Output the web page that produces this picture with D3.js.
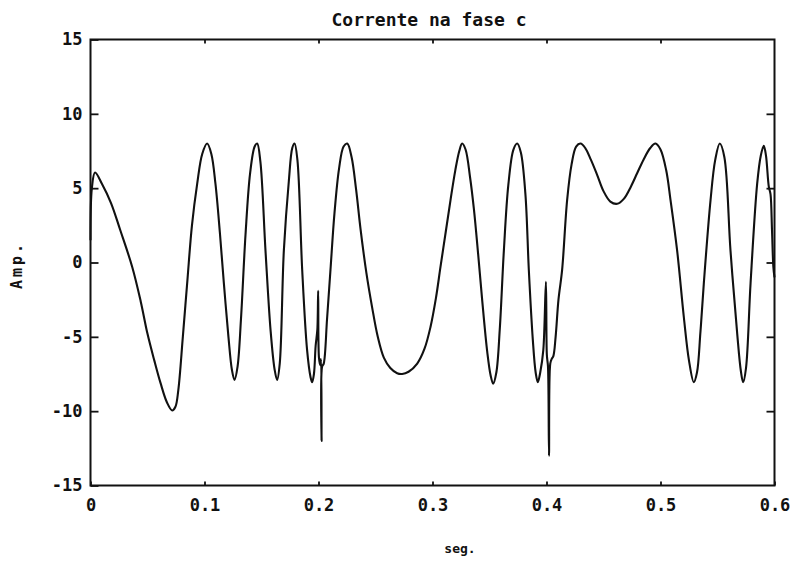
<!DOCTYPE html>
<html>
<head>
<meta charset="utf-8">
<script src="https://cdn.jsdelivr.net/npm/d3@7"></script>
<style>
  html, body { margin: 0; padding: 0; background: #fff; }
  svg { display: block; }
  text { font-family: "DejaVu Sans Mono", "Liberation Mono", monospace; font-weight: bold; fill: #111; }
</style>
</head>
<body>
<svg id="chart" width="795" height="563"></svg>
<script>
// Phase-c current over time (seconds, amperes)
const timeS = [
  0.0000, 0.0012, 0.0040, 0.0100, 0.0180, 0.0260, 0.0366, 0.0440, 0.0500, 0.0560,
  0.0614, 0.0670, 0.0716, 0.0745, 0.0770, 0.0810, 0.0850, 0.0890, 0.0936, 0.0980,
  0.1023, 0.1060, 0.1096, 0.1135, 0.1170, 0.1210, 0.1240, 0.1263, 0.1290, 0.1320,
  0.1360, 0.1400, 0.1440, 0.1462, 0.1490, 0.1535, 0.1580, 0.1615, 0.1637, 0.1660,
  0.1696, 0.1740, 0.1770, 0.1790, 0.1815, 0.1857, 0.1900, 0.1930, 0.1944, 0.1960,
  0.1975, 0.1990, 0.1997, 0.2004, 0.2015, 0.2022, 0.2027, 0.2032, 0.2046, 0.2075,
  0.2105, 0.2140, 0.2180, 0.2220, 0.2252, 0.2290, 0.2330, 0.2368, 0.2420, 0.2470,
  0.2520, 0.2573, 0.2630, 0.2690, 0.2734, 0.2790, 0.2866, 0.2930, 0.2982, 0.3030,
  0.3070, 0.3115, 0.3158, 0.3200, 0.3235, 0.3260, 0.3290, 0.3330, 0.3363, 0.3400,
  0.3436, 0.3480, 0.3510, 0.3532, 0.3560, 0.3590, 0.3626, 0.3665, 0.3710, 0.3743,
  0.3775, 0.3815, 0.3845, 0.3880, 0.3905, 0.3924, 0.3945, 0.3972, 0.3995, 0.4003,
  0.4013, 0.4022, 0.4033, 0.4045, 0.4060, 0.4080, 0.4105, 0.4137, 0.4181, 0.4220,
  0.4260, 0.4298, 0.4340, 0.4390, 0.4444, 0.4500, 0.4560, 0.4620, 0.4680, 0.4740,
  0.4795, 0.4850, 0.4910, 0.4956, 0.5000, 0.5050, 0.5088, 0.5146, 0.5205, 0.5250,
  0.5292, 0.5320, 0.5350, 0.5380, 0.5439, 0.5480, 0.5520, 0.5560, 0.5614, 0.5673,
  0.5705, 0.5725, 0.5750, 0.5790, 0.5848, 0.5880, 0.5906, 0.5925, 0.5950, 0.5965,
  0.5978, 0.5990, 0.6000
];
const currentA = [
   1.5,  5.0,  6.05,  5.3,  4.0,  2.2, -0.3, -2.6, -4.8, -6.6,
  -8.1, -9.4, -9.95, -9.7, -8.6, -5.0, -1.2,  2.5,  5.3,  7.3,
   8.0,  7.3,  5.3,  2.0, -1.4, -5.0, -7.2, -7.9, -7.0, -3.8,
   1.9,  6.0,  7.8,  8.0,  6.8,  0.8, -4.6, -7.2, -7.9, -6.8,
   0.8,  5.5,  7.7,  8.0,  6.9, -0.5, -5.9, -7.7, -8.05, -7.5,
  -5.6, -4.5, -1.9, -6.4, -6.9, -6.5, -12.0, -7.0, -6.8, -3.8,
  -0.5,  3.3,  6.3,  7.8,  8.0,  7.1,  4.9,  2.3, -0.7, -3.0,
  -5.0, -6.4, -7.1, -7.45, -7.5, -7.35, -6.8, -5.8, -4.35, -2.4,
  -0.3,  2.0,  4.2,  6.2,  7.5,  8.0,  7.6,  5.7,  3.6,  0.6,
  -2.55, -6.0, -7.6, -8.15, -7.4, -4.5,  0.8,  5.2,  7.6,  8.0,
   7.4,  4.6, -0.5, -5.2, -7.4, -8.05, -7.4, -5.9, -1.3, -6.2,
  -7.0, -13.0, -6.8, -6.5, -6.3, -5.0, -2.5, -0.5,  4.2,  6.6,
   7.8,  8.0,  7.7,  6.9,  5.9,  4.8,  4.1,  3.95, 4.3,  5.1,
   6.0,  6.9,  7.7,  8.0,  7.6,  6.2,  4.2,  0.8, -3.7, -6.6,
  -8.05, -7.4, -4.7, -1.4,  4.2,  6.9,  8.0,  7.1,  0.8, -4.8,
  -7.3, -8.05, -7.1, -1.4,  5.3,  7.2,  7.85, 7.2,  5.1,  4.6,
   2.2, -0.3, -1.0
];

const xTicks = [0, 0.1, 0.2, 0.3, 0.4, 0.5, 0.6];
const xTickLabels = ["0", "0.1", "0.2", "0.3", "0.4", "0.5", "0.6"];
const yTicks = [-15, -10, -5, 0, 5, 10, 15];
const yTickLabels = ["-15", "-10", "-5", "0", "5", "10", "15"];

const titleText = "Corrente na fase c";
const xLabelText = "seg.";
const yLabelText = "Amp.";

const svg = d3.select("#chart");
svg.append("rect").attr("width", 795).attr("height", 563).attr("fill", "#fff");

const plot = { left: 90.5, right: 774.5, top: 39.5, bottom: 485.5 };

const x = d3.scaleLinear().domain([0, 0.6]).range([plot.left, plot.right]);
const y = d3.scaleLinear().domain([-15, 15]).range([plot.bottom, plot.top]);

// Waveform, smoothed through the sampled points
const points = timeS.map((t, i) => [t, currentA[i]]);
const line = d3.line()
  .x(d => x(d[0]))
  .y(d => y(d[1]))
  .curve(d3.curveCatmullRom.alpha(0.5));

svg.append("path")
  .datum(points)
  .attr("d", line)
  .attr("fill", "none")
  .attr("stroke", "#111")
  .attr("stroke-width", 2.1)
  .attr("stroke-linejoin", "round");

// Axes with inward ticks
function styleAxis(g) {
  g.select(".domain").remove();
  g.selectAll(".tick line").attr("stroke", "#111").attr("stroke-width", 1.8);
  g.selectAll(".tick text").style("font-size", "17px").attr("fill", "#111");
}

svg.append("g")
  .attr("transform", `translate(${plot.left},0)`)
  .call(d3.axisLeft(y).tickValues(yTicks)
    .tickFormat((d, i) => yTickLabels[i])
    .tickSizeInner(-8).tickSizeOuter(0).tickPadding(8))
  .call(styleAxis);

svg.append("g")
  .attr("transform", `translate(${plot.right},0)`)
  .call(d3.axisRight(y).tickValues(yTicks.slice(1, -1))
    .tickFormat("").tickSizeInner(-8).tickSizeOuter(0))
  .call(styleAxis);

svg.append("g")
  .attr("transform", `translate(0,${plot.bottom})`)
  .call(d3.axisBottom(x).tickValues(xTicks)
    .tickFormat((d, i) => xTickLabels[i])
    .tickSizeInner(-4).tickSizeOuter(0).tickPadding(13))
  .call(styleAxis);

svg.append("g")
  .attr("transform", `translate(0,${plot.top})`)
  .call(d3.axisTop(x).tickValues(xTicks.slice(1, -1))
    .tickFormat("").tickSizeInner(-4).tickSizeOuter(0))
  .call(styleAxis);

// Frame
svg.append("rect")
  .attr("x", plot.left).attr("y", plot.top)
  .attr("width", plot.right - plot.left)
  .attr("height", plot.bottom - plot.top)
  .attr("fill", "none")
  .attr("stroke", "#111")
  .attr("stroke-width", 2);

// Title and axis labels
svg.append("text")
  .attr("x", 429).attr("y", 26)
  .attr("text-anchor", "middle")
  .style("font-size", "18px")
  .text(titleText);

svg.append("text")
  .attr("x", 460).attr("y", 553)
  .attr("text-anchor", "middle")
  .style("font-size", "13px")
  .text(xLabelText);

svg.append("text")
  .attr("transform", "translate(22,265) rotate(-90)")
  .attr("text-anchor", "middle")
  .style("font-size", "15px")
  .style("letter-spacing", "3px")
  .text(yLabelText);
</script>
</body>
</html>
